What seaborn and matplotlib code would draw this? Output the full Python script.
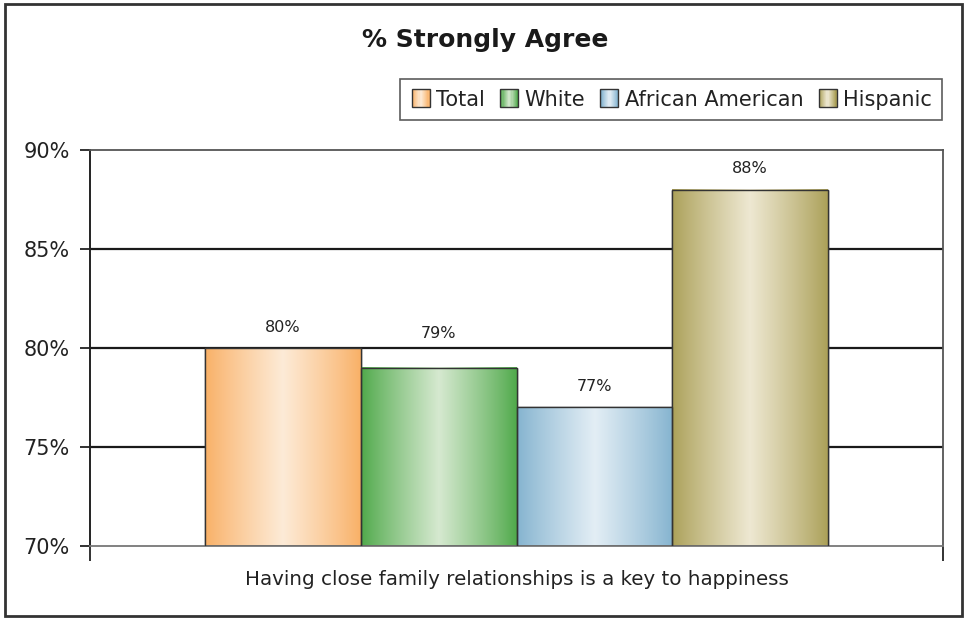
import numpy as np
import pandas as pd
import matplotlib
matplotlib.use("Agg")
import matplotlib.pyplot as plt
import matplotlib.colors as mcolors
from matplotlib.patches import Rectangle
from matplotlib.legend_handler import HandlerBase
import seaborn as sns

# Data
statement = "Having close family relationships is a key to happiness"
groups = ["Total", "White", "African American", "Hispanic"]
values = [80, 79, 77, 88]
y_ticks = [70, 75, 80, 85, 90]

# Bar shading: outer (edge) colour and centre highlight colour
edge_colors = ["#F9B066", "#4FA94A", "#84B3CF", "#ABA058"]
center_colors = ["#FDEBD7", "#D6E9D0", "#E3EEF5", "#EEE8D2"]

Y_MIN, Y_MAX = 70, 90

sns.set_theme(style="white")
plt.rcParams["font.family"] = ["DejaVu Sans"]

fig = plt.figure(figsize=(9.65, 6.19), dpi=100)
ax = fig.add_axes([90 / 965, 1 - 546 / 619, (943 - 90) / 965, (546 - 150) / 619])

df = pd.DataFrame({"statement": [statement] * len(groups), "group": groups, "pct": values})
sns.barplot(data=df, x="statement", y="pct", hue="group", hue_order=groups,
            palette=edge_colors, saturation=1, width=0.73, ax=ax, legend=False,
            edgecolor="#333333", linewidth=1.0, zorder=2)

ax.set_ylim(Y_MIN, Y_MAX)
ax.set_xlim(-0.5, 0.5)
ax.set_yticks(y_ticks)
ax.set_yticklabels([f"{v}%" for v in y_ticks], fontsize=15, color="#222222")
ax.tick_params(axis="y", direction="out", length=7.5, width=1.3, color="#222222", pad=7, left=True)
ax.set_xticks([-0.5, 0.5])
ax.set_xticklabels(["", ""])
ax.tick_params(axis="x", direction="out", length=11, width=1.3, color="#222222", bottom=True)
ax.set_xlabel(statement, fontsize=14.3, color="#222222", labelpad=3)
ax.set_ylabel("")

# Horizontal grid lines
grid_levels = y_ticks[1:-1]
for v in grid_levels:
    ax.axhline(v, color="#1a1a1a", lw=1.6, zorder=1)

for side in ["left", "right", "top", "bottom"]:
    ax.spines[side].set_visible(True)
ax.spines["left"].set_color("#222222")
ax.spines["left"].set_linewidth(1.4)
ax.spines["top"].set_color("#555555")
ax.spines["top"].set_linewidth(1.3)
ax.spines["right"].set_color("#555555")
ax.spines["right"].set_linewidth(1.3)
ax.spines["bottom"].set_color("#777777")
ax.spines["bottom"].set_linewidth(1.3)


def gradient_row(c_edge, c_center, n=256):
    u = np.linspace(0, 1, n)
    t = (1 - np.abs(2 * u - 1)) ** 0.9
    e = np.array(mcolors.to_rgb(c_edge))
    c = np.array(mcolors.to_rgb(c_center))
    return (e[None, :] + (c - e)[None, :] * t[:, None])[None, :, :]


def label_position(v):
    # place the value label above the bar, lifting it clear of any grid line it would cross
    c = v + 1.05
    for g in grid_levels:
        if c - 0.4 < g < c + 0.4:
            c = g + 0.75
    return c


# Cylinder-like shading on every bar (visible part above the axis floor)
bars = [p for p in ax.patches if isinstance(p, Rectangle)]
for i, bar in enumerate(bars):
    x0 = bar.get_x()
    w = bar.get_width()
    top = bar.get_y() + bar.get_height()
    bottom = max(bar.get_y(), Y_MIN)
    ax.imshow(gradient_row(edge_colors[i], center_colors[i]), aspect="auto",
              extent=[x0, x0 + w, bottom, top], zorder=2.5, interpolation="bicubic")
    ax.add_patch(Rectangle((x0, bottom), w, top - bottom, fill=False, edgecolor="#333333",
                           lw=1.0, zorder=3))
    ax.text(x0 + w / 2, label_position(values[i]), f"{values[i]}%", ha="center",
            va="center", fontsize=11.5, color="#222222", zorder=4)
ax.set_xlim(-0.5, 0.5)
ax.set_ylim(Y_MIN, Y_MAX)


class GradientHandler(HandlerBase):
    def __init__(self, c_edge, c_center):
        super().__init__()
        self.c_edge = c_edge
        self.c_center = c_center

    def create_artists(self, legend, orig_handle, xdescent, ydescent, width, height,
                       fontsize, trans):
        size = min(width, height)
        x0 = -xdescent + (width - size) / 2
        y0 = -ydescent + (height - size) / 2
        row = gradient_row(self.c_edge, self.c_center, n=16)[0]
        arts = []
        sw = size / len(row)
        for k, col in enumerate(row):
            r = Rectangle((x0 + k * sw, y0), sw * 1.05, size, facecolor=col,
                          edgecolor="none", transform=trans)
            arts.append(r)
        arts.append(Rectangle((x0, y0), size, size, fill=False, edgecolor="#333333",
                              lw=1.0, transform=trans))
        return arts


handles = [Rectangle((0, 0), 1, 1) for _ in groups]
handler_map = {h: GradientHandler(e, c) for h, e, c in zip(handles, edge_colors, center_colors)}
leg = fig.legend(handles, groups, handler_map=handler_map, ncol=4,
                 loc="upper right", bbox_to_anchor=(942 / 965, 1 - 79 / 619),
                 fontsize=15, frameon=True, fancybox=False, edgecolor="#333333",
                 handlelength=0.95, handleheight=0.95, handletextpad=0.25,
                 columnspacing=0.7, borderpad=0.5, borderaxespad=0.0,
                 labelcolor="#222222")
leg.get_frame().set_linewidth(1.2)

fig.text(485 / 965, 1 - 40 / 619, "% Strongly Agree", ha="center", va="center",
         fontsize=18, fontweight="bold", color="#1a1a1a")

# Outer frame around the whole chart
fig.patches.append(Rectangle((5 / 965, 3 / 619), 957 / 965, 612 / 619, fill=False,
                             edgecolor="#333333", lw=2.0, transform=fig.transFigure))

fig.savefig("out.png", dpi=100)
